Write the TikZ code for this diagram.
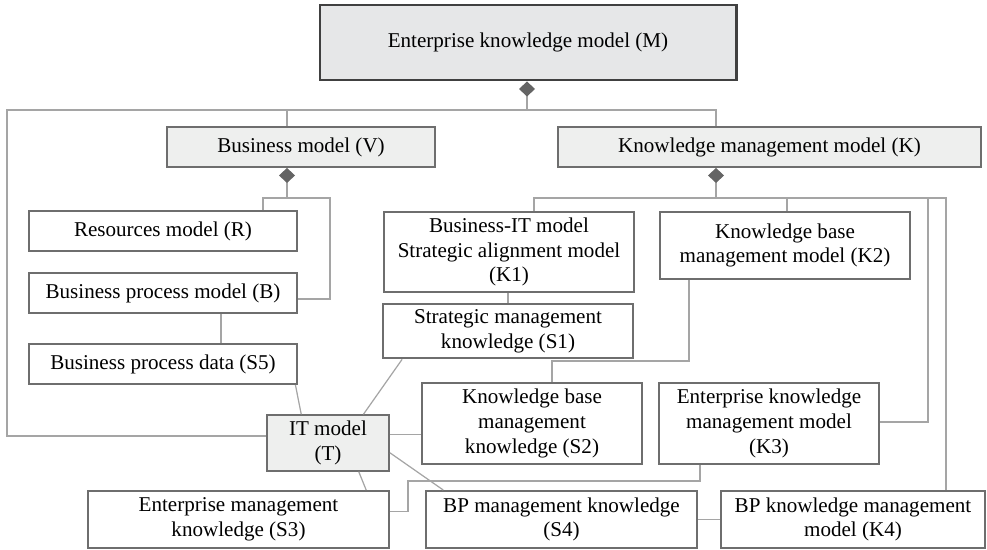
\documentclass[tikz,border=0pt]{standalone}
\usepackage{fontspec}
\setmainfont{Liberation Serif}
\usetikzlibrary{arrows.meta}

\definecolor{boxline}{RGB}{110,110,110}
\definecolor{connline}{RGB}{165,165,165}
\definecolor{headfill}{RGB}{230,231,232}
\definecolor{subfill}{RGB}{238,239,238}
\definecolor{diamondgray}{RGB}{100,100,100}

\begin{document}
\begin{tikzpicture}[x=0.02cm, y=-0.02cm,
every node/.style = {rectangle, draw=boxline, line width=1.1pt, align=center,
                     fill=white, font=\fontsize{12}{14}\selectfont},
wh/.style 2 args = {minimum width=#1*0.02cm, minimum height=#2*0.02cm},
shaded/.style = {fill=subfill},
conn/.style = {draw=connline, line width=0.7pt},
comp/.style = {{Diamond[length=0.3cm, width=0.32cm, color=diamondgray]}-}]
\useasboundingbox (0,0) rectangle (987,550);

\node[wh={416}{75}, fill=headfill, draw=black!75, line width=1.7pt] (EnterpriseModel) at (528,42.5) {Enterprise knowledge model (M)};
\node[wh={268}{40}, shaded] (BusinessModel) at (301,147) {Business model (V)};
\node[wh={423}{40}, shaded] (KMModel) at (769.5,147) {Knowledge management model (K)};
\node[wh={268}{40}] (ResourcesModel) at (163,231) {Resources model (R)};
\node[wh={268}{40}] (BPModel) at (163,293) {Business process model (B)};
\node[wh={268}{40}] (BPData) at (163,364) {Business process data (S5)};
\node[wh={122}{54}, shaded] (ITModel) at (328,443) {IT model\\(T)};
\node[wh={250}{80}] (BITModel) at (509,252) {Business-IT model\\Strategic alignment model\\(K1)};
\node[wh={250}{52}] (StratKnowledge) at (508,331) {Strategic management\\knowledge (S1)};
\node[wh={250}{67}] (KBModel) at (785,245.5) {Knowledge base\\management model (K2)};
\node[wh={220}{81}] (KBKnowledge) at (532,423.5) {Knowledge base\\management\\knowledge (S2)};
\node[wh={220}{81}] (EKMModel) at (769,423.5) {Enterprise knowledge\\management model\\(K3)};
\node[wh={301}{57}] (EMKnowledge) at (238.5,519.5) {Enterprise management\\knowledge (S3)};
\node[wh={271}{57}] (BPKnowledge) at (561.5,519.5) {BP management knowledge\\(S4)};
\node[wh={264}{57}] (BPKMModel) at (853,519.5) {BP knowledge management\\model (K4)};

% bend points of the connectors
\coordinate (mbus) at (527,110);
\coordinate (lbend) at (7,436);
\coordinate (vbus) at (287,198);
\coordinate (vres) at (263,198);
\coordinate (vbp) at (330,299);
\coordinate (bpdown) at (221,330);
\coordinate (kbus) at (716,198);
\coordinate (kleft) at (534,198);
\coordinate (kmid) at (787,198);
\coordinate (kright) at (946,198);
\coordinate (kem) at (928,422);
\coordinate (kbturn) at (689,361);
\coordinate (kbleft) at (552,361);
\coordinate (emturn) at (408,481);
\coordinate (ekturn) at (700,481);

% enterprise model parts
\draw[conn, comp] (EnterpriseModel.south -| mbus) -- (mbus);
\draw[conn] (BusinessModel.north -| vbus) |- (mbus) -| (KMModel.north -| kbus);
\draw[conn] (mbus) -| (lbend) -- (ITModel.west |- lbend);

% business model parts
\draw[conn, comp] (BusinessModel.south -| vbus) -- (vbus);
\draw[conn] (ResourcesModel.north -| vres) -- (vres) -| (vbp) -- (BPModel.east |- vbp);
\draw[conn] (BPModel.south -| bpdown) -- (BPData.north -| bpdown);
\draw[conn] (BPData.-9) -- (ITModel.133);

% knowledge management model parts
\draw[conn, comp] (KMModel.south -| kbus) -- (kbus);
\draw[conn] (BITModel.north -| kleft) -- (kleft) -- (kright) -- (BPKMModel.north -| kright);
\draw[conn] (KBModel.north -| kmid) -- (kmid);
\draw[conn] (kem |- kbus) -- (kem) -- (EKMModel.east |- kem);
\draw[conn] (StratKnowledge.north) -- (StratKnowledge.north |- BITModel.south);
\draw[conn] (KBModel.south -| kbturn) -- (kbturn) -- (kbleft) -- (KBKnowledge.north -| kbleft);

% IT model links
\draw[conn] (ITModel.39) -- (StratKnowledge.195);
\draw[conn] (ITModel.8) -- (ITModel.8 -| KBKnowledge.west);
\draw[conn] (ITModel.-9) -- (BPKnowledge.166);
\draw[conn] (ITModel.-43) -- (EMKnowledge.13);
\draw[conn] (EMKnowledge.3) -| (emturn) -- (ekturn) -- (EKMModel.south -| ekturn);
\draw[conn] (BPKnowledge.east) -- (BPKMModel.west);
\end{tikzpicture}
\end{document}
